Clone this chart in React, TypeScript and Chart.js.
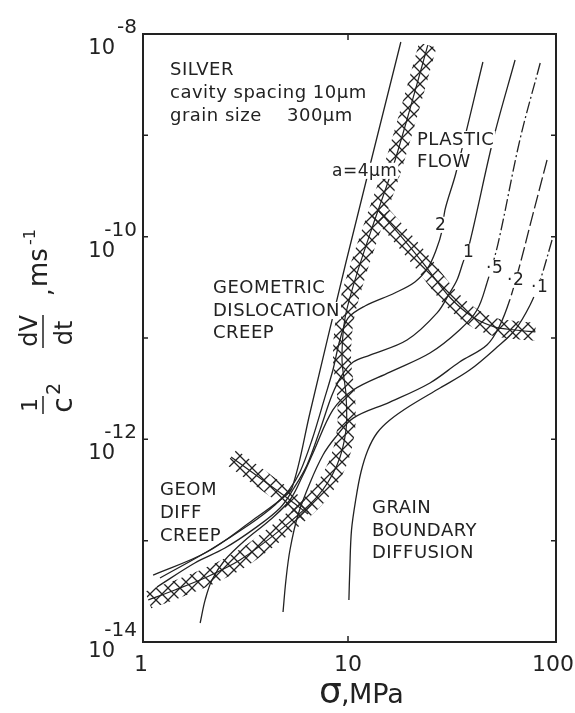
import React, { useEffect, useRef } from "react";
import { Chart, registerables } from "chart.js";

Chart.register(...registerables);

// ---- axis ranges / ticks ----
const X_MIN = 1;
const X_MAX = 103.4;
const Y_MIN = 1e-14;
const Y_MAX = 1e-8;
const xTickValues = [1, 10, 100];
const xTickLabels = ["1", "10", "100"];
const yLabelValues = [1e-8, 1e-10, 1e-12, 1e-14];
const yLabelExponents = ["-8", "-10", "-12", "-14"];
const yInnerTicks = [1e-9, 1e-10, 1e-11, 1e-12, 1e-13];
const xInnerTicks = [10];

// ---- curves: sigma (MPa) and (1/c^2) dV/dt (m/s) ----
const a4Sigma = [18.1, 9.78, 6.52, 5.33, 4.66, 3.44, 2.05, 1.12];
const a4Rate = [8.34e-9, 5.62e-11, 1.82e-12, 3.31e-13, 2.52e-13, 1.6e-13, 7.73e-14, 4.58e-14];

const a2Sigma = [45.5, 33.6, 29.7, 28.8, 26.9, 24.5, 21.2, 16.9, 12.1, 10.0, 9.13, 8.44, 7.64, 6.67, 5.83, 5.15, 4.4, 3.33, 2.12, 1.21];
const a2Rate = [5.29e-9, 4.25e-10, 1.83e-10, 1.16e-10, 7.38e-11, 4.91e-11, 3.57e-11, 2.78e-11, 2.07e-11, 1.57e-11, 9.55e-12, 4.83e-12, 2.44e-12, 9.85e-13, 4.76e-13, 3.16e-13, 2.25e-13, 1.46e-13, 8.09e-14, 4.28e-14];

const a1Sigma = [65.3, 51.0, 39.2, 36.3, 34.0, 31.3, 27.2, 19.4, 12.8, 10.6, 9.35, 8.36, 7.3, 6.31, 5.45, 4.66, 3.52, 2.51, 1.79, 1.17];
const a1Rate = [5.54e-9, 8.99e-10, 8.65e-11, 5.5e-11, 3.73e-11, 2.78e-11, 1.77e-11, 9.55e-12, 6.79e-12, 5.79e-12, 4.31e-12, 2.74e-12, 1.24e-12, 5.58e-13, 3.31e-13, 2.1e-13, 1.33e-13, 8.46e-14, 6.02e-14, 3.49e-14];

const a05Sigma = [86.6, 68.9, 54.0, 47.6, 42.6, 35.0, 25.1, 16.0, 10.6, 8.44, 6.75, 6.03, 5.21, 4.16, 3.15, 2.51, 2.17, 2.01, 1.9];
const a05Rate = [5.17e-9, 8.99e-10, 8.65e-11, 3.49e-11, 1.89e-11, 1.2e-11, 7.11e-12, 4.61e-12, 3.07e-12, 1.95e-12, 7.33e-13, 4.45e-13, 2.52e-13, 1.6e-13, 1.01e-13, 6.44e-14, 4.09e-14, 2.6e-14, 1.54e-14];

const a02Sigma = [93.5, 77.3, 68.9, 61.5, 55.1, 47.6, 35.0, 25.1, 16.0, 10.6, 8.63, 7.55, 6.52, 5.7, 5.21, 4.98, 4.82];
const a02Rate = [5.71e-10, 1.3e-10, 5.25e-11, 2.37e-11, 1.34e-11, 8.53e-12, 5.79e-12, 3.6e-12, 2.33e-12, 1.62e-12, 1.03e-12, 7.0e-13, 3.71e-13, 1.79e-13, 8.09e-14, 4.09e-14, 1.98e-14];

const a01Sigma = [98.9, 86.6, 77.3, 65.2, 53.4, 39.2, 28.1, 20.0, 16.0, 13.85, 12.5, 11.57, 10.94, 10.4, 10.2, 10.1];
const a01Rate = [9.27e-11, 3.73e-11, 2.12e-11, 1.2e-11, 8.15e-12, 4.83e-12, 3.21e-12, 2.13e-12, 1.55e-12, 1.155e-12, 7.85e-13, 4.76e-13, 2.64e-13, 1.27e-13, 5.13e-14, 2.6e-14];

// ---- cross-hatched mechanism boundaries ----
const bandASigma = [1.06, 1.43, 2.05, 2.97, 4.66, 7.06, 8.84, 9.78, 9.78, 9.35, 9.67, 11.0, 13.5, 16.4, 20.0, 24.5];
const bandARate = [2.6e-14, 3.26e-14, 4.38e-14, 6.44e-14, 1.27e-13, 2.7e-13, 5.58e-13, 1.24e-12, 2.74e-12, 6.07e-12, 1.57e-11, 4.18e-11, 1.46e-10, 4.55e-10, 1.78e-9, 7.78e-9];
const bandBSigma = [14.0, 17.9, 23.2, 31.3, 40.6, 52.2, 65.2, 81.9];
const bandBRate = [1.83e-10, 1.04e-10, 5.5e-11, 2.54e-11, 1.61e-11, 1.28e-11, 1.2e-11, 1.15e-11];
const bandCSigma = [2.69, 3.72, 5.21, 6.38];
const bandCRate = [6.7e-13, 4.15e-13, 2.52e-13, 1.83e-13];

const INK = "#222";
const F = (s: number) => `${s}px "DejaVu Sans", sans-serif`;

function zip(xs: number[], ys: number[]) {
  return xs.map((x, i) => ({ x, y: ys[i] }));
}

function makePattern() {
  const tile = document.createElement("canvas");
  tile.width = 12;
  tile.height = 12;
  const t = tile.getContext("2d")!;
  t.strokeStyle = INK;
  t.lineWidth = 1.3;
  t.beginPath();
  t.moveTo(0, 0);
  t.lineTo(12, 12);
  t.moveTo(12, 0);
  t.lineTo(0, 12);
  t.stroke();
  const c = document.createElement("canvas").getContext("2d")!;
  return c.createPattern(tile, "repeat")!;
}

function rot(ctx: CanvasRenderingContext2D, txt: string, sx: number, sy: number, size: number, align: CanvasTextAlign = "left") {
  ctx.save();
  ctx.translate(sx, sy);
  ctx.rotate(-Math.PI / 2);
  ctx.font = F(size);
  ctx.textAlign = align;
  ctx.textBaseline = "alphabetic";
  ctx.fillText(txt, 0, 0);
  ctx.restore();
}

type Lbl = [string, number, number, number, boolean];
const plotLabels: Lbl[] = [
  ["SILVER", 170, 75, 18, false],
  ["cavity spacing 10μm", 170, 98, 18, false],
  ["grain size", 170, 121, 18, false],
  ["300μm", 287, 121, 18, false],
  ["PLASTIC", 417, 145, 18, true],
  ["FLOW", 417, 167, 18, true],
  ["a=4μm", 332, 176, 17, true],
  ["2", 435, 230, 17, true],
  ["1", 463, 257, 17, true],
  ["·5", 486, 273, 17, true],
  ["·2", 507, 285, 17, true],
  ["·1", 531, 292, 17, true],
  ["GEOMETRIC", 213, 293, 18, false],
  ["DISLOCATION", 213, 316, 18, true],
  ["CREEP", 213, 338, 18, false],
  ["GEOM", 160, 495, 18, false],
  ["DIFF", 160, 518, 18, false],
  ["CREEP", 160, 541, 18, false],
  ["GRAIN", 372, 513, 18, false],
  ["BOUNDARY", 372, 536, 18, false],
  ["DIFFUSION", 372, 558, 18, false],
];

const overlay = {
  id: "overlay",
  afterDatasetsDraw(chart: any) {
    const { ctx, chartArea: a, scales } = chart;
    const xs = scales.x;
    const ys = scales.y;
    ctx.save();
    ctx.fillStyle = INK;
    ctx.strokeStyle = INK;

    // in-plot labels
    ctx.textAlign = "left";
    ctx.textBaseline = "alphabetic";
    for (const [t, lx, ly, s, bg] of plotLabels) {
      ctx.font = F(s);
      (ctx as any).letterSpacing = "0.5px";
      const w = ctx.measureText(t).width;
      if (bg) {
        ctx.fillStyle = "#fff";
        ctx.fillRect(lx - 2, ly - s * 0.78, w + 3, s * 0.95);
        ctx.fillStyle = INK;
      }
      ctx.fillText(t, lx, ly);
    }
    (ctx as any).letterSpacing = "0px";

    // frame
    ctx.lineWidth = 2;
    ctx.strokeRect(a.left, a.top, a.right - a.left, a.bottom - a.top);
    ctx.lineWidth = 1.5;
    ctx.beginPath();
    for (const v of yInnerTicks) {
      const p = ys.getPixelForValue(v);
      ctx.moveTo(a.left, p);
      ctx.lineTo(a.left + 5, p);
      ctx.moveTo(a.right, p);
      ctx.lineTo(a.right - 5, p);
    }
    for (const v of xInnerTicks) {
      const p = xs.getPixelForValue(v);
      ctx.moveTo(p, a.top);
      ctx.lineTo(p, a.top + 6);
      ctx.moveTo(p, a.bottom);
      ctx.lineTo(p, a.bottom - 6);
    }
    ctx.stroke();

    // x tick labels
    ctx.font = F(22);
    ctx.textAlign = "center";
    xTickValues.forEach((v, i) => {
      const p = xs.getPixelForValue(v);
      ctx.fillText(xTickLabels[i], p - (i === 0 ? 2 : 0), a.bottom + 29);
    });

    // y tick labels: 10 with exponent
    yLabelValues.forEach((v, i) => {
      const p = ys.getPixelForValue(v);
      const shift = i === yLabelValues.length - 1 ? -5 : 0;
      ctx.textAlign = "right";
      ctx.font = F(21);
      ctx.fillText("10", 115, p + 20 + shift);
      ctx.font = F(20);
      ctx.fillText(yLabelExponents[i], 137, p - 1 + shift);
    });

    // x title
    ctx.textAlign = "left";
    ctx.font = F(36);
    ctx.fillText("σ", 319, 703);
    ctx.font = F(27);
    ctx.fillText(",", 341, 703);
    ctx.fillText("MPa", 349, 703);

    // y title (rotated)
    rot(ctx, "1", 37, 405, 22, "center");
    rot(ctx, "c", 72, 405, 28, "center");
    rot(ctx, "2", 60, 395, 19, "left");
    rot(ctx, "dV", 37, 331, 24, "center");
    rot(ctx, "dt", 72, 333, 24, "center");
    rot(ctx, ",", 51, 296, 24, "left");
    rot(ctx, "ms", 47, 287, 26, "left");
    rot(ctx, "-1", 35, 245, 16, "left");
    ctx.lineWidth = 1.5;
    ctx.beginPath();
    ctx.moveTo(43, 396);
    ctx.lineTo(43, 414);
    ctx.moveTo(43, 315);
    ctx.lineTo(43, 348);
    ctx.stroke();

    ctx.restore();
  },
};

export default function App() {
  const ref = useRef<HTMLCanvasElement | null>(null);

  useEffect(() => {
    if (!ref.current) return;
    const pattern = makePattern();
    const line = (xs: number[], ys: number[], dashAbove?: number, dash?: number[]) => ({
      data: zip(xs, ys),
      borderColor: INK,
      borderWidth: 1.3,
      pointRadius: 0,
      tension: 0.35,
      fill: false,
      segment: dashAbove
        ? {
            borderDash: (c: any) =>
              c.p0.parsed.y > dashAbove && c.p1.parsed.y > dashAbove ? dash : undefined,
          }
        : undefined,
    });
    const band = (xs: number[], ys: number[]) => [
      {
        data: zip(xs, ys),
        borderColor: pattern,
        borderWidth: 18,
        borderCapStyle: "butt",
        borderJoinStyle: "round",
        pointRadius: 0,
        tension: 0.3,
        fill: false,
      },
      {
        data: zip(xs, ys),
        borderColor: INK,
        borderWidth: 1.2,
        pointRadius: 0,
        tension: 0.3,
        fill: false,
      },
    ];

    const chart = new Chart(ref.current, {
      type: "line",
      data: {
        datasets: [
          ...band(bandASigma, bandARate),
          ...band(bandBSigma, bandBRate),
          ...band(bandCSigma, bandCRate),
          line(a4Sigma, a4Rate),
          line(a2Sigma, a2Rate),
          line(a1Sigma, a1Rate),
          line(a05Sigma, a05Rate, 1.9e-11, [12, 3, 2, 3]),
          line(a02Sigma, a02Rate, 2.3e-11, [14, 4]),
          line(a01Sigma, a01Rate, 2.0e-11, [12, 3, 2, 3]),
        ] as any,
      },
      options: {
        responsive: false,
        animation: false,
        devicePixelRatio: 1,
        events: [],
        layout: { padding: { left: 143, top: 34, right: 19, bottom: 71 } },
        plugins: { legend: { display: false }, tooltip: { enabled: false } },
        scales: {
          x: { type: "logarithmic", min: X_MIN, max: X_MAX, display: false },
          y: { type: "logarithmic", min: Y_MIN, max: Y_MAX, display: false },
        },
      } as any,
      plugins: [overlay],
    });
    return () => chart.destroy();
  }, []);

  return (
    <div style={{ position: "fixed", left: 0, top: 0, width: 575, height: 713, background: "#fff" }}>
      <canvas ref={ref} width={575} height={713} style={{ display: "block" }} />
    </div>
  );
}
